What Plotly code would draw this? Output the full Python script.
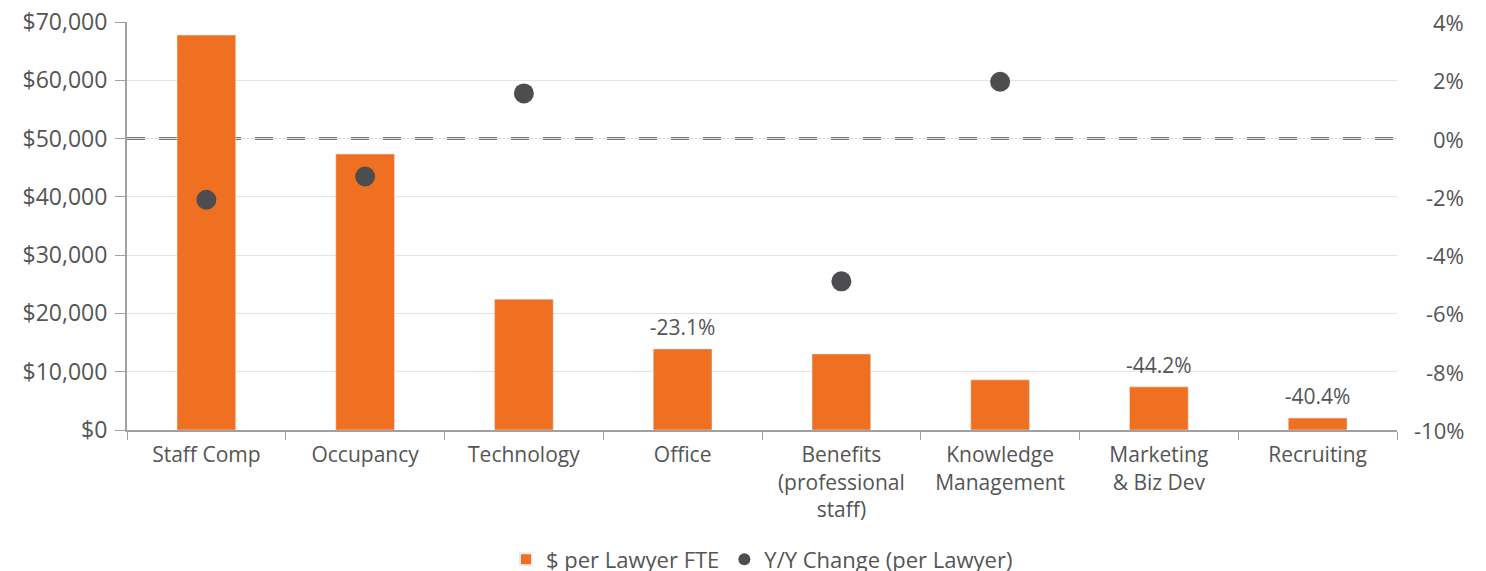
import plotly.graph_objects as go

# categories and values
categories = ["Staff Comp", "Occupancy", "Technology", "Office",
              "Benefits<br>(professional<br>staff)", "Knowledge<br>Management",
              "Marketing<br>& Biz Dev", "Recruiting"]
cost_per_lawyer = [67750, 47350, 22450, 13900, 13050, 8600, 7400, 2050]
yoy_change = [-2.1, -1.3, 1.55, -23.1, -4.9, 1.95, -44.2, -40.4]
y2_ticks = [4, 2, 0, -2, -4, -6, -8, -10]
y2_labels = ["4%", "2%", "0%", "-2%", "-4%", "-6%", "-8%", "-10%"]

# out-of-range changes shown as text above the bar instead of a dot
y2_min, y2_max = -10, 4
dot_x = [c for c, v in zip(categories, yoy_change) if y2_min <= v <= y2_max]
dot_y = [v for v in yoy_change if y2_min <= v <= y2_max]
lbl_x = [c for c, v in zip(categories, yoy_change) if not (y2_min <= v <= y2_max)]
lbl_y = [b for b, v in zip(cost_per_lawyer, yoy_change) if not (y2_min <= v <= y2_max)]
lbl_txt = [f"{v:.1f}%" for v in yoy_change if not (y2_min <= v <= y2_max)]

ORANGE = "#F07022"
DOT = "#4D4D4F"
TXT = "#555555"
AX = "#A0A0A0"
FONT = "Open Sans"

fig = go.Figure()
fig.add_trace(go.Bar(x=categories, y=cost_per_lawyer, name="$ per Lawyer FTE",
                     marker_color=ORANGE, yaxis="y"))
fig.add_trace(go.Scatter(x=dot_x, y=dot_y, mode="markers", name="Y/Y Change (per Lawyer)",
                         marker=dict(color=DOT, size=20), yaxis="y2"))
# invisible marker just to lift the label a bit off the bar top
fig.add_trace(go.Scatter(x=lbl_x, y=lbl_y, mode="markers+text", text=lbl_txt,
                         textposition="top center", showlegend=False, hoverinfo="skip",
                         marker=dict(size=12, opacity=0),
                         textfont=dict(size=21, color=TXT, family=FONT), yaxis="y"))

# right axis labels drawn right-aligned, like the original
annotations = [dict(xref="paper", yref="y2", x=1.0543, y=t, text=s, showarrow=False,
                    xanchor="right", yanchor="middle", font=dict(size=22, color=TXT))
               for t, s in zip(y2_ticks, y2_labels)]

# page body has an 8px margin, so the figure is 8px smaller than the window
fig.update_layout(
    width=1478, height=563,
    margin=dict(l=119, r=89, t=14, b=141, autoexpand=False),
    plot_bgcolor="white", paper_bgcolor="white",
    font=dict(family=FONT, size=21, color=TXT),
    bargap=0.63,
    xaxis=dict(showline=True, linecolor=AX, linewidth=2,
               ticks="outside", tickson="boundaries", ticklen=8, tickcolor=AX,
               ticklabelstandoff=5, tickfont=dict(size=21, color=TXT)),
    yaxis=dict(range=[0, 70000], dtick=10000, tickprefix="$", tickformat=",",
               showgrid=True, gridcolor="#E3E3E3", gridwidth=1,
               showline=True, linecolor=AX, linewidth=2,
               ticks="outside", ticklen=10, tickcolor=AX, zeroline=False,
               ticklabelstandoff=3, ticklabeloverflow="allow",
               tickfont=dict(size=23, color=TXT)),
    yaxis2=dict(range=[y2_min, y2_max], overlaying="y", side="right",
                showgrid=False, zeroline=False, showline=False, showticklabels=False),
    legend=dict(orientation="h", x=0.5, xanchor="center", y=-0.266, yanchor="top",
                font=dict(size=22, color=TXT), itemsizing="constant"),
    annotations=annotations,
    shapes=[dict(type="line", xref="paper", x0=0, x1=1, yref="y2", y0=0, y1=0,
                 line=dict(color="#444444", width=2.5, dash="18px,14px"), layer="below")],
)

fig.write_html("out.html")
